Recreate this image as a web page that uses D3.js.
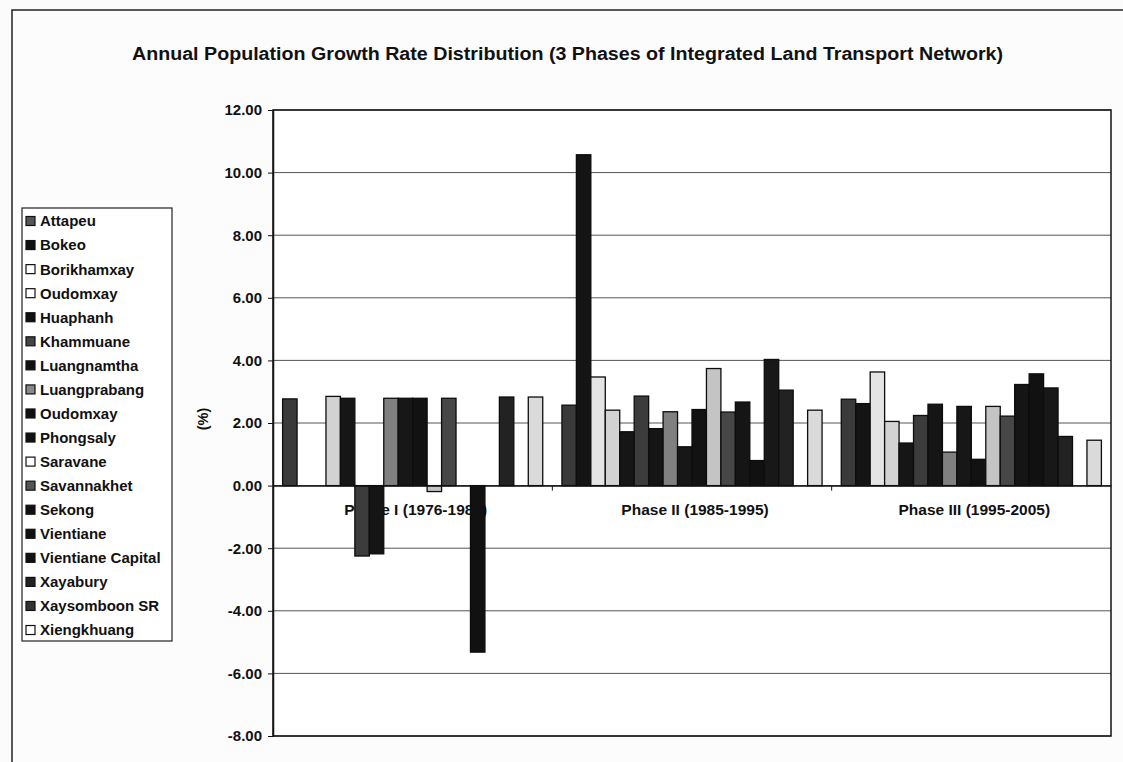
<!DOCTYPE html>
<meta charset="utf-8">
<style>
body { margin: 0; background: #fbfbfb; }
text { font-family: "Liberation Sans", Arial, sans-serif; font-weight: bold; fill: #111; }
.grid line { stroke: #555; stroke-width: 1px; }
.axis path, .axis line { stroke: #111; }
</style>
<svg width="1123" height="762"></svg>
<script src="https://d3js.org/d3.v7.min.js"></script>
<script>

var phases = ["Phase I (1976-1985)", "Phase II (1985-1995)", "Phase III (1995-2005)"];

var provinces = ["Attapeu", "Bokeo", "Borikhamxay", "Oudomxay", "Huaphanh", "Khammuane",
  "Luangnamtha", "Luangprabang", "Oudomxay", "Phongsaly", "Saravane", "Savannakhet",
  "Sekong", "Vientiane", "Vientiane Capital", "Xayabury", "Xaysomboon SR", "Xiengkhuang"];

// growth rate (%) per province, one array per phase (null = no bar)
var phase1 = [2.77, null, null, 2.85, 2.79, -2.25, -2.18, 2.79, 2.79, 2.79, -0.19, 2.79, null, -5.32, null, 2.83, null, 2.83];
var phase2 = [2.57, 10.57, 3.47, 2.41, 1.72, 2.86, 1.82, 2.36, 1.24, 2.43, 3.74, 2.35, 2.67, 0.80, 4.03, 3.05, null, 2.41];
var phase3 = [2.76, 2.62, 3.63, 2.05, 1.36, 2.24, 2.60, 1.07, 2.53, 0.84, 2.53, 2.22, 3.23, 3.57, 3.12, 1.57, null, 1.45];

var yTicks = [-8, -6, -4, -2, 0, 2, 4, 6, 8, 10, 12];

// grayscale fills, like the printed excel chart
var fills = ["#3a3a3a", "#141414", "#e4e4e4", "#d2d2d2", "#161616", "#3c3c3c",
  "#151515", "#808080", "#171717", "#121212", "#c4c4c4", "#474747",
  "#151515", "#111111", "#181818", "#222222", "#2a2a2a", "#dadada"];
var legendFills = ["#555", "#111", "#fff", "#fff", "#111", "#444",
  "#111", "#888", "#111", "#111", "#fff", "#555",
  "#111", "#111", "#111", "#222", "#333", "#fff"];

var data = [phase1, phase2, phase3];

var svg = d3.select("svg");

// outer chart border
svg.append("rect")
    .attr("x", 12).attr("y", 10)
    .attr("width", 1130).attr("height", 780)
    .attr("fill", "#fcfcfc")
    .attr("stroke", "#222")
    .attr("stroke-width", 1.5);

svg.append("text")
    .attr("x", 132)
    .attr("y", 60)
    .attr("textLength", 871)
    .attr("lengthAdjust", "spacingAndGlyphs")
    .style("font-size", "18px")
    .text("Annual Population Growth Rate Distribution (3 Phases of Integrated Land Transport Network)");

var margin = {top: 110, left: 273},
    width = 838,
    height = 626,
    g = svg.append("g").attr("transform", "translate(" + margin.left + "," + margin.top + ")");

var x0 = d3.scaleBand().domain(phases).range([0, width]);
var gap = 9.6;
var x1 = d3.scaleBand().domain(d3.range(provinces.length)).range([gap, x0.bandwidth() - gap]);
var y = d3.scaleLinear().domain([-8, 12]).range([height, 0]);

g.append("rect")
    .attr("width", width).attr("height", height)
    .attr("fill", "#fff");

g.append("g")
    .attr("class", "grid")
  .selectAll("line")
  .data(yTicks)
  .enter().append("line")
    .attr("x1", 0).attr("x2", width)
    .attr("y1", function(d) { return y(d); })
    .attr("y2", function(d) { return y(d); });

g.append("rect")
    .attr("width", width).attr("height", height)
    .attr("fill", "none")
    .attr("stroke", "#111")
    .attr("stroke-width", 1.5);

// category labels sit behind the bars
g.selectAll(".catlabel")
  .data(phases)
  .enter().append("text")
    .attr("class", "catlabel")
    .attr("x", function(d) { return x0(d) + x0.bandwidth() / 2 + 3; })
    .attr("y", y(0) + 29)
    .attr("text-anchor", "middle")
    .style("font-size", "15.5px")
    .text(function(d) { return d; });

var groups = g.selectAll(".phase")
  .data(data)
  .enter().append("g")
    .attr("class", "phase")
    .attr("transform", function(d, i) { return "translate(" + x0(phases[i]) + ",0)"; });

groups.selectAll("rect")
  .data(function(d) { return d.map(function(v, i) { return {i: i, v: v}; }).filter(function(e) { return e.v !== null; }); })
  .enter().append("rect")
    .attr("x", function(d) { return x1(d.i); })
    .attr("width", x1.bandwidth())
    .attr("y", function(d) { return y(Math.max(0, d.v)); })
    .attr("height", function(d) { return Math.abs(y(d.v) - y(0)); })
    .attr("fill", function(d) { return fills[d.i]; })
    .attr("stroke", "#0d0d0d")
    .attr("stroke-width", 1.3);

// y axis
g.append("g")
    .attr("class", "axis")
    .call(d3.axisLeft(y).tickValues(yTicks).tickSize(5).tickSizeOuter(0)
      .tickFormat(function(d) { return d.toFixed(2); }))
    .call(function(a) { a.select(".domain").attr("stroke-width", 1.5); })
    .call(function(a) { a.selectAll("text").attr("x", -11).style("font-size", "15px").style("font-family", null); });

// category axis on the zero line
g.append("g")
    .attr("class", "axis")
    .attr("transform", "translate(0," + y(0) + ")")
    .call(d3.axisBottom(x0).tickValues([]).tickSizeOuter(0))
    .call(function(a) { a.select(".domain").attr("stroke-width", 1.5); });

g.selectAll(".cattick")
  .data([1, 2])
  .enter().append("line")
    .attr("x1", function(d) { return d * x0.bandwidth(); })
    .attr("x2", function(d) { return d * x0.bandwidth(); })
    .attr("y1", y(0)).attr("y2", y(0) + 5)
    .attr("stroke", "#111");

svg.append("text")
    .attr("transform", "translate(208,419) rotate(-90)")
    .attr("text-anchor", "middle")
    .style("font-size", "14.5px")
    .text("(%)");

// legend
var legend = svg.append("g").attr("transform", "translate(22,208)");

legend.append("rect")
    .attr("width", 150).attr("height", 433)
    .attr("fill", "#fff")
    .attr("stroke", "#222")
    .attr("stroke-width", 1.2);

var item = legend.selectAll(".item")
  .data(provinces)
  .enter().append("g")
    .attr("class", "item")
    .attr("transform", function(d, i) { return "translate(0," + (13 + i * 24.06) + ")"; });

item.append("rect")
    .attr("x", 4).attr("y", -4.5)
    .attr("width", 9).attr("height", 9)
    .attr("fill", function(d, i) { return legendFills[i]; })
    .attr("stroke", "#111")
    .attr("stroke-width", 1.2);

item.append("text")
    .attr("x", 18)
    .attr("dy", "0.36em")
    .style("font-size", "15px")
    .text(function(d) { return d; });

</script>
